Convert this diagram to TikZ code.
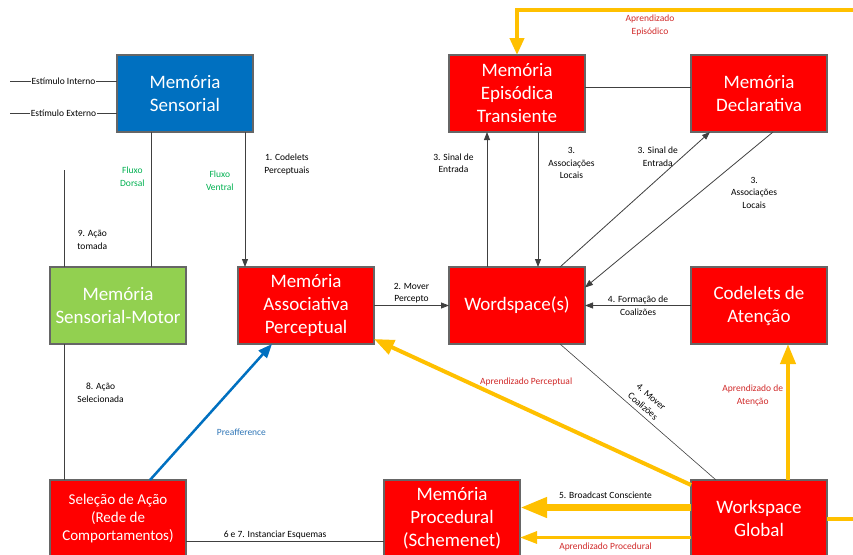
\documentclass[tikz,border=0pt]{standalone}
\usepackage{fontspec}
\setmainfont{Carlito}
\usetikzlibrary{positioning,calc}
\usetikzlibrary{arrows.meta}

\definecolor{boxred}{HTML}{FF0000}
\definecolor{sensblue}{HTML}{0070C0}
\definecolor{motorgreen}{HTML}{92D050}
\definecolor{learnyel}{HTML}{FFC000}
\definecolor{learnred}{HTML}{D02828}
\definecolor{flowgreen}{HTML}{00B050}
\definecolor{prefblue}{HTML}{2E75B6}

\tikzset{
   membox/.style={draw=black!60, line width=1.2pt, fill=boxred, text=white,
      minimum width=136pt, minimum height=77pt, inner sep=0pt, outer sep=0pt,
      align=center, font=\fontsize{19}{23}\selectfont},
   lbl/.style={font=\fontsize{9.5}{12.5}\selectfont, align=center, inner sep=1pt},
   flow/.style={lbl, text=flowgreen},
   lrn/.style={lbl, text=learnred},
   conn/.style={draw=black!75, line width=0.8pt},
   arr/.style={conn, -{Triangle[length=8pt,width=6pt]}},
   learn/.style={draw=learnyel, line width=4pt, -{Triangle[length=20pt,width=15pt]}},
}

\begin{document}
\begin{tikzpicture}[x=1pt, y=-1pt]
   \useasboundingbox (0,0) rectangle (853,554);
   \clip (0,0) rectangle (853,554);

   % top row
   \node[membox, fill=sensblue] (sens) at (185,93.5) {Memória\\Sensorial};
   \node[membox, right=196pt of sens] (epis) {Memória\\Episódica\\Transiente};
   \node[membox, right=106pt of epis] (decl) {Memória\\Declarativa};

   % middle row
   \node[membox, below=135pt of epis]  (wspace) {Wordspace(s)};
   \node[membox, below=135pt of decl]  (codat)  {Codelets de\\Atenção};
   \node[membox, left=75pt of wspace]  (pam)    {Memória\\Associativa\\Perceptual};
   \node[membox, fill=motorgreen, left=52pt of pam] (smotor) {Memória\\Sensorial-Motor};

   % bottom row
   \node[membox, below=136pt of smotor, font=\fontsize{15}{18}\selectfont]
      (selac) {Seleção de Ação\\(Rede de\\Comportamentos)};
   \node[membox, below=136pt of codat] (gw)   {Workspace\\Global};
   \node[membox, left=171pt of gw]     (proc) {Memória\\Procedural\\(Schemenet)};

   % stimuli
   \coordinate (eint) at (10,81);
   \coordinate (eext) at (10,113);
   \draw[conn] (eint) -- node[lbl, fill=white] {Estímulo Interno} (eint -| sens.west);
   \draw[conn] (eext) -- node[lbl, fill=white] {Estímulo Externo} (eext -| sens.west);

   % dorsal / ventral
   \draw[conn] ([xshift=-34pt]sens.south)
      -- node[flow, pos=0.33, left=5pt] {Fluxo\\Dorsal} ([xshift=33pt]smotor.north);
   \draw[arr] ([xshift=60pt]sens.south)
      -- node[flow, pos=0.36, left=10pt] {Fluxo\\Ventral}
         node[lbl, pos=0.24, right=18pt] {1. Codelets\\Perceptuais}
      ([xshift=-61pt]pam.north);

   % action
   \coordinate (acao) at (64,170);
   \draw[conn] (acao) -- node[lbl, pos=0.72, right=12pt] {9. Ação\\tomada} (acao |- smotor.north);
   \draw[conn] (acao |- smotor.south)
      -- node[lbl, pos=0.36, right=12pt] {8. Ação\\Selecionada} (acao |- selac.north);
   \draw[draw=sensblue, line width=2.5pt, -{Triangle[length=14pt,width=11pt]}]
      ([xshift=32pt]selac.north)
      -- node[lbl, text=prefblue, pos=0.35, right=22pt] {Preafference} ([xshift=-34pt]pam.south);

   % perceptual -> workspace
   \draw[arr] (pam.east) -- node[lbl, above=1pt] {2. Mover\\Percepto} (wspace.west);
   \draw[arr] ([xshift=-30pt]wspace.north)
      -- node[lbl, pos=0.77, left=12pt] {3. Sinal de\\Entrada} ([xshift=-30pt]epis.south);
   \draw[arr] ([xshift=21pt]epis.south)
      -- node[lbl, pos=0.23, right=9pt] {3.\\Associações\\Locais} ([xshift=21pt]wspace.north);
   \draw[conn] ([yshift=6pt]epis.east) -- ([yshift=6pt]decl.west);
   \draw[arr] ([xshift=43pt]wspace.north)
      -- node[lbl, pos=0.815, left=3pt] {3. Sinal de\\Entrada} ([xshift=-49pt]decl.south);
   \draw[arr] ([xshift=14pt]decl.south)
      -- node[lbl, pos=0.39, right=30pt] {3.\\Associações\\Locais} ([yshift=18pt]wspace.east);
   \draw[arr] (codat.west) -- node[lbl] {4. Formação de\\Coalizões} (wspace.east);
   \draw[conn, line width=0.6pt] ([xshift=43pt]wspace.south)
      -- node[lbl, sloped, above=3pt] {4. Mover\\Coalizões} ([xshift=-43pt]gw.north);

   % learning
   \draw[learn] ([yshift=-5pt]gw.north west)
      -- node[lrn, pos=0.52, yshift=27pt] {Aprendizado Perceptual} ([yshift=5pt]pam.south east);
   \draw[learn] ([xshift=29pt]gw.north)
      -- node[lrn, pos=0.62, left=2pt] {Aprendizado de\\Atenção} ([xshift=29pt]codat.south);
   \draw[learn, line width=7pt, -{Triangle[length=27pt,width=19pt]}] ([yshift=11pt]gw.west)
      -- node[lbl, above=4pt] {5. Broadcast Consciente} ([yshift=11pt]proc.east);
   \draw[learn, line width=3pt, -{Triangle[length=17pt,width=12pt]}] ([yshift=-19pt]gw.west)
      -- node[lrn, below=3pt] {Aprendizado Procedural} ([yshift=-19pt]proc.east);
   \draw[learn, -{Triangle[length=17pt,width=14pt]}] (gw.east) -- ++(40,0)
      |- node[lrn, pos=0.81, below=2pt] {Aprendizado\\Episódico} ([yshift=45pt]epis.north)
      -- (epis.north);

   % schemes
   \draw[conn] ([yshift=-23pt]selac.east)
      -- node[lbl, pos=0.45, above=1pt] {6 e 7. Instanciar Esquemas} ([yshift=-23pt]proc.west);
\end{tikzpicture}
\end{document}
